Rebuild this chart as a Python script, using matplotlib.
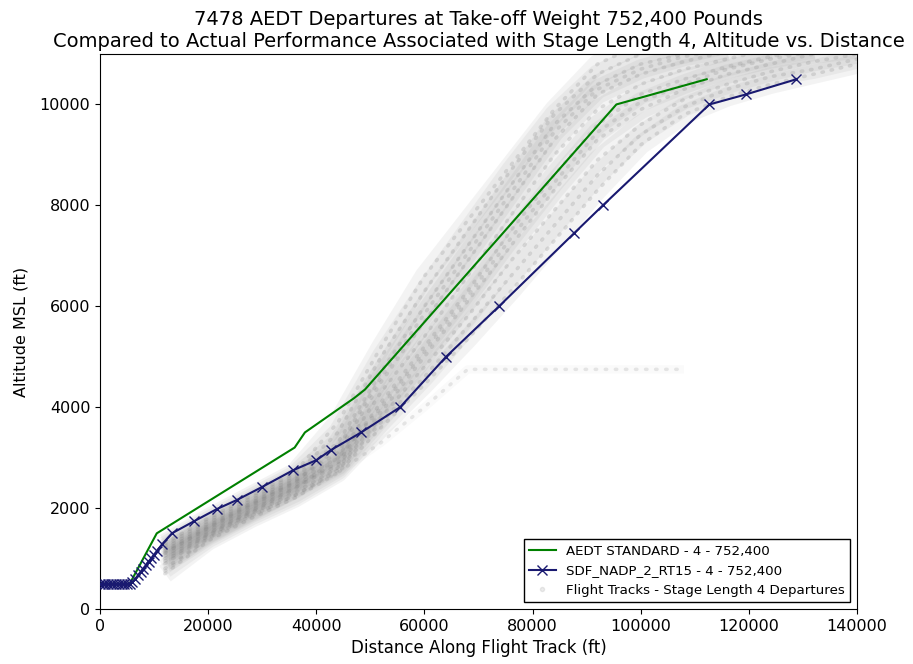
import numpy as np
import matplotlib
matplotlib.use("Agg")
import matplotlib.pyplot as plt
from matplotlib.lines import Line2D

# ---- AEDT standard profile ----
aedt_dist = [0, 5500, 10500, 36000, 37900, 47000, 49000, 95500, 112200]
aedt_alt = [500, 500, 1500, 3200, 3500, 4180, 4350, 10000, 10500]

# ---- SDF_NADP_2_RT15 profile ----
nadp_dist = [0, 500, 1000, 1500, 2000, 2500, 3000, 3500, 4000, 4500, 5000, 5500,
             6000, 6500, 7000, 7500, 8000, 8500, 9000, 9500, 10000, 10500, 11500,
             13300, 17400, 21600, 25300, 30000, 35700, 40000, 42700, 48300,
             55500, 64000, 73800, 87700, 93000, 112700, 119500, 128800]
nadp_alt = [500, 500, 500, 500, 500, 500, 500, 500, 500, 500, 500, 500,
            528, 596, 665, 734, 803, 872, 941, 1010, 1079, 1148, 1285,
            1500, 1740, 1980, 2160, 2420, 2750, 2950, 3150, 3500,
            4000, 5000, 6000, 7450, 8000, 10000, 10200, 10500]

# ---- Flight tracks (stage length 4 departures) ----
track_dist = [12000, 20000, 28000, 36000, 44000, 52000, 60000, 68000, 76000,
              84000, 92000, 100000, 108000, 116000, 124000, 132000, 140000]
nan = np.nan
track_a = [700, 1350, 1800, 2200, 2700, 3600, 4450, 5350, 6300, 7300, 8300, 9200, 9800, 10150, 10400, 10600, 10800]
track_b = [800, 1400, 1850, 2250, 2750, 3700, 4600, 5600, 6600, 7600, 8600, 9400, 9950, 10300, 10550, 10700, 10900]
track_c = [900, 1450, 1900, 2300, 2800, 3800, 4800, 5800, 6900, 7900, 8900, 9600, 10100, 10400, 10650, 10850, 11000]
track_d = [1000, 1500, 1950, 2400, 2850, 3900, 5000, 6100, 7200, 8300, 9300, 9900, 10300, 10600, 10800, 11000, 11100]
track_e = [1050, 1550, 2000, 2450, 2900, 4100, 5200, 6300, 7500, 8600, 9600, 10200, 10500, 10750, 10950, 11100, nan]
track_f = [1100, 1600, 2050, 2500, 3000, 4300, 5400, 6600, 7800, 9000, 9900, 10400, 10700, 10900, 11100, nan, nan]
track_g = [1150, 1650, 2100, 2550, 3100, 4500, 5700, 6900, 8100, 9300, 10200, 10600, 10850, 11050, nan, nan, nan]
track_h = [1200, 1700, 2150, 2600, 3300, 4700, 6000, 7200, 8400, 9600, 10400, 10800, 11000, 11200, nan, nan, nan]
track_i = [1250, 1750, 2200, 2650, 3500, 5000, 6300, 7500, 8700, 9800, 10600, 11000, 11200, nan, nan, nan, nan]
track_j = [1300, 1800, 2250, 2700, 3700, 5200, 6600, 7700, 8800, 9900, 10800, 11200, nan, nan, nan, nan, nan]
track_m = [950, 1480, 1930, 2380, 3000, 4000, 5100, 6200, 7350, 8450, 9450, 10050, 10400, 10700, 10900, 11050, nan]
track_n = [1120, 1620, 2080, 2520, 3200, 4600, 5850, 7050, 8250, 9450, 10300, 10700, 10950, 11100, nan, nan, nan]
track_k = [750, 1400, 1850, 2250, 2700, 3300, 4000, 4750, 4750, 4750, 4750, 4750, 4750, nan, nan, nan, nan]
tracks = [track_a, track_b, track_c, track_d, track_e, track_f, track_g,
          track_h, track_i, track_j, track_m, track_n]
level_tracks = [track_k]

x_ticks = [0, 20000, 40000, 60000, 80000, 100000, 120000, 140000]
y_ticks = [0, 2000, 4000, 6000, 8000, 10000]

fig = plt.figure(figsize=(9.13, 6.64), dpi=100)
ax = fig.add_axes([0.1095, 0.0828, 0.8292, 0.8359])

for t in tracks:
    ax.plot(track_dist, t, color="gray", lw=14, alpha=0.09,
            solid_capstyle="butt", zorder=1)
    ax.plot(track_dist, t, color="gray", lw=2.6, alpha=0.22,
            linestyle=(0, (0.4, 2.2)), dash_capstyle="round", zorder=1)
for t in level_tracks:
    ax.plot(track_dist, t, color="gray", lw=6, alpha=0.04,
            solid_capstyle="butt", zorder=1)
    ax.plot(track_dist, t, color="gray", lw=2.5, alpha=0.18,
            linestyle=(0, (0.4, 2.5)), dash_capstyle="round", zorder=1)

ax.plot(aedt_dist, aedt_alt, color="green", lw=1.5, zorder=3,
        label="AEDT STANDARD - 4 - 752,400")
ax.plot(nadp_dist, nadp_alt, color="midnightblue", lw=1.5, marker="x",
        markersize=7.5, zorder=4, label="SDF_NADP_2_RT15 - 4 - 752,400")

handles = [
    Line2D([], [], color="green", lw=1.5),
    Line2D([], [], color="midnightblue", lw=1.5, marker="x", markersize=7.5),
    Line2D([], [], color="gray", marker="o", markersize=3, linestyle="None", alpha=0.15),
]
labels = ["AEDT STANDARD - 4 - 752,400", "SDF_NADP_2_RT15 - 4 - 752,400",
          "Flight Tracks - Stage Length 4 Departures"]
ax.legend(handles, labels, loc="lower right", fontsize=9.6, framealpha=1,
          edgecolor="black", fancybox=False)

ax.set_xlim(0, 140000)
ax.set_ylim(0, 11000)
ax.set_xticks(x_ticks)
ax.set_yticks(y_ticks)
ax.tick_params(labelsize=11.5)
ax.set_xlabel("Distance Along Flight Track (ft)", fontsize=12)
ax.set_ylabel("Altitude MSL (ft)", fontsize=11.5, labelpad=8)
ax.set_title("7478 AEDT Departures at Take-off Weight 752,400 Pounds\n"
             "Compared to Actual Performance Associated with Stage Length 4, Altitude vs. Distance",
             fontsize=14, pad=5)

fig.savefig("out.png", dpi=100)
